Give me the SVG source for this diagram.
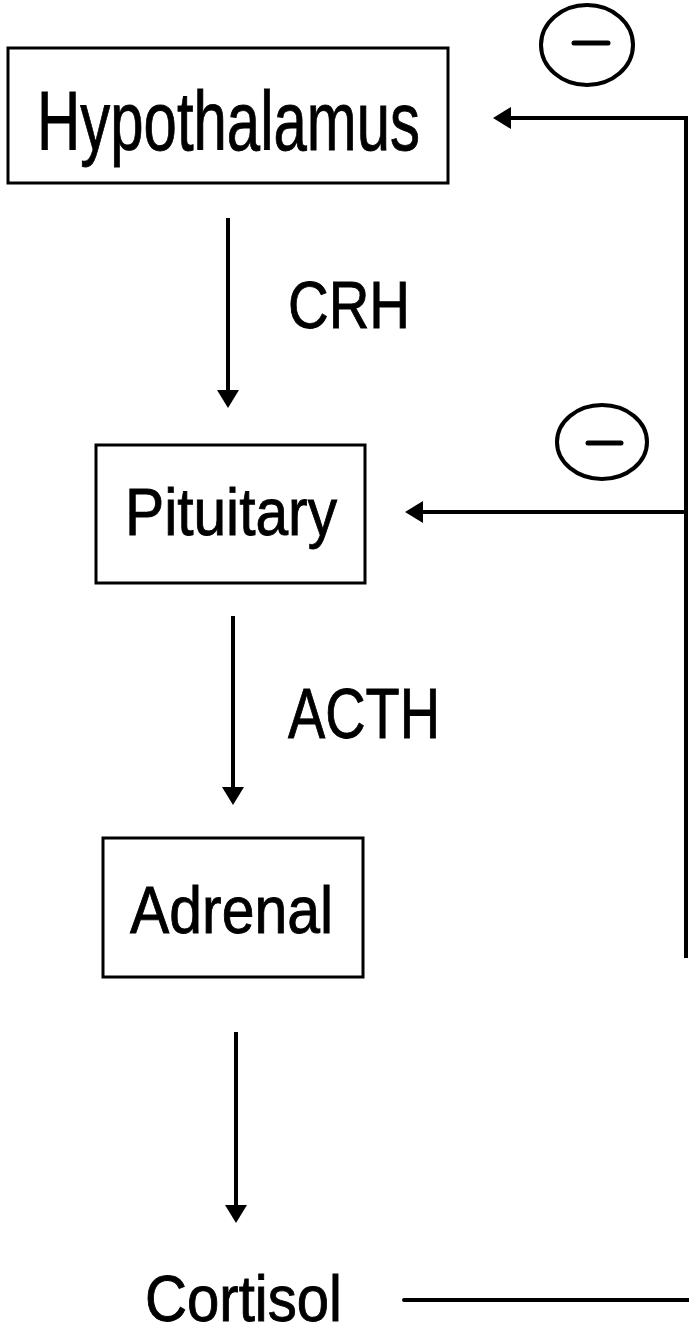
<svg xmlns="http://www.w3.org/2000/svg" width="689" height="1336" viewBox="0 0 689 1336">
  <style>
    .box { fill: #fff; stroke: #000; stroke-width: 3; }
    .lbl { font-family: "Liberation Sans", Arial, sans-serif; fill: #000; stroke: #000; stroke-width: 0.9; }
    .wire { stroke: #000; stroke-width: 4; fill: none; }
    .ring { fill: none; stroke: #000; stroke-width: 4; }
    .minus { stroke: #000; stroke-width: 5; stroke-linecap: round; }
  </style>
  <defs>
    <marker id="head" viewBox="0 0 18 22" markerWidth="18" markerHeight="22" refX="14" refY="11" orient="auto" markerUnits="userSpaceOnUse">
      <path d="M0,0 L18,11 L0,22 Z" fill="#000"/>
    </marker>
  </defs>
  <rect width="689" height="1336" fill="#fff"/>

  <g id="hypothalamus">
    <rect class="box" x="8" y="48" width="440" height="135"/>
    <text class="lbl" x="37" y="150" font-size="84" textLength="383" lengthAdjust="spacingAndGlyphs">Hypothalamus</text>
  </g>

  <g id="pituitary">
    <rect class="box" x="96" y="445" width="269" height="138"/>
    <text class="lbl" x="125" y="535" font-size="66" textLength="212" lengthAdjust="spacingAndGlyphs">Pituitary</text>
  </g>

  <g id="adrenal">
    <rect class="box" x="103" y="838" width="260" height="139"/>
    <text class="lbl" x="130" y="933" font-size="67" textLength="203" lengthAdjust="spacingAndGlyphs">Adrenal</text>
  </g>

  <g id="cortisol">
    <text class="lbl" x="145" y="1321" font-size="64" textLength="197" lengthAdjust="spacingAndGlyphs">Cortisol</text>
  </g>

  <g id="inhibit-hypothalamus">
    <ellipse class="ring" cx="587" cy="45" rx="46" ry="40"/>
    <line class="minus" x1="574" y1="43" x2="608" y2="43"/>
  </g>

  <g id="inhibit-pituitary">
    <ellipse class="ring" cx="602" cy="442" rx="45" ry="37"/>
    <line class="minus" x1="588" y1="443" x2="621" y2="443"/>
  </g>

  <g id="connectors">
    <!-- CRH -->
    <line class="wire" x1="228" y1="218" x2="228" y2="404" marker-end="url(#head)"/>
    <text class="lbl" x="288" y="328" font-size="67" textLength="122" lengthAdjust="spacingAndGlyphs">CRH</text>
    <!-- ACTH -->
    <line class="wire" x1="233" y1="616" x2="233" y2="801" marker-end="url(#head)"/>
    <text class="lbl" x="288" y="738" font-size="70" textLength="152" lengthAdjust="spacingAndGlyphs">ACTH</text>
    <!-- adrenal output -->
    <line class="wire" x1="236" y1="1032" x2="236" y2="1219" marker-end="url(#head)"/>
    <!-- cortisol feedback loop -->
    <line class="wire" x1="404" y1="1300" x2="689" y2="1300" stroke-width="6" stroke-linecap="round"/>
    <line class="wire" x1="686" y1="116" x2="686" y2="860"/>
    <line class="wire" x1="686" y1="860" x2="686" y2="958" stroke="#888" stroke-width="2"/>
    <line class="wire" x1="688" y1="118" x2="497" y2="118" marker-end="url(#head)"/>
    <line class="wire" x1="686" y1="512" x2="409" y2="512" marker-end="url(#head)"/>
  </g>
</svg>
